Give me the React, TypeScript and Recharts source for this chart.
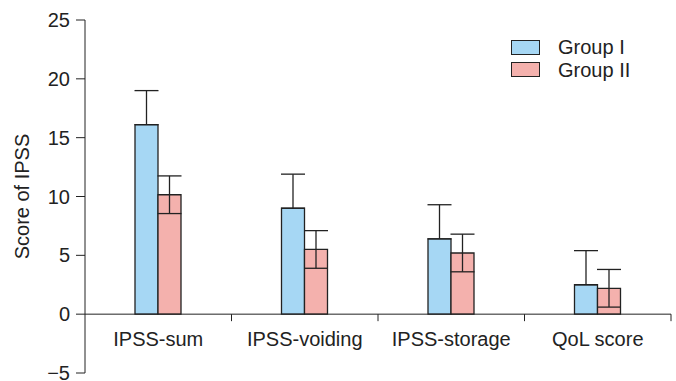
import React from "react";
import {
  BarChart,
  Bar,
  XAxis,
  YAxis,
  ErrorBar,
  ReferenceLine,
} from "recharts";

// values
const categories = ["IPSS-sum", "IPSS-voiding", "IPSS-storage", "QoL score"];
const group1 = [16.1, 9.0, 6.4, 2.5];
const group1Sd = [2.9, 2.9, 2.9, 2.9];
const group2 = [10.15, 5.5, 5.2, 2.2];
const group2Sd = [1.6, 1.6, 1.6, 1.6];
const yTicks = [-5, 0, 5, 10, 15, 20, 25];
const seriesNames = ["Group I", "Group II"];

const data = categories.map((name, i) => ({
  name,
  // Group I only shows the upper whisker
  g1: group1[i],
  g1Err: [0, group1Sd[i]],
  g2: group2[i],
  g2Err: [group2Sd[i], group2Sd[i]],
}));

const INK = "#222";
const BLUE = "#a6d7f4";
const PINK = "#f4b1ad";
const FONT = 20;

// layout of the plot area
const W = 676;
const H = 381;
const PLOT_LEFT = 85;
const PLOT_RIGHT = 671;
const PLOT_TOP = 20;
const PLOT_BOTTOM = 373;
const X_AXIS_H = 8;
const BAND = (PLOT_RIGHT - PLOT_LEFT) / categories.length;
const ZERO_Y = PLOT_BOTTOM - (5 / 30) * (PLOT_BOTTOM - PLOT_TOP);

function CategoryTick(props: any) {
  const { x, payload } = props;
  return (
    <g>
      <text x={x} y={346} textAnchor="middle" fontSize={FONT} fill={INK}>
        {payload.value}
      </text>
      <line
        x1={x + BAND / 2}
        x2={x + BAND / 2}
        y1={ZERO_Y}
        y2={ZERO_Y + 7}
        stroke={INK}
        strokeWidth={1}
      />
    </g>
  );
}

function YLabel(props: any) {
  const vb = props.viewBox || { y: PLOT_TOP, height: PLOT_BOTTOM - PLOT_TOP };
  const cy = vb.y + vb.height / 2;
  const cx = 22;
  return (
    <text
      x={cx}
      y={cy}
      transform={`rotate(-90, ${cx}, ${cy})`}
      textAnchor="middle"
      dominantBaseline="central"
      fontSize={FONT}
      fill={INK}
    >
      Score of IPSS
    </text>
  );
}

function LegendBox() {
  const colors = [BLUE, PINK];
  return (
    <div style={{ position: "absolute", left: 511, top: 36, lineHeight: 1 }}>
      {seriesNames.map((label, i) => (
        <div
          key={label}
          style={{ display: "flex", alignItems: "center", height: 22.5 }}
        >
          <span
            style={{
              width: 27,
              height: 13,
              background: colors[i],
              border: `1px solid ${INK}`,
              marginRight: 18,
            }}
          />
          <span style={{ fontSize: FONT, color: INK }}>{label}</span>
        </div>
      ))}
    </div>
  );
}

export default function App() {
  return (
    <div
      style={{
        position: "absolute",
        left: 0,
        top: 0,
        width: W,
        height: H,
        background: "#fff",
        fontFamily: "'Liberation Sans', Arial, sans-serif",
      }}
    >
      <BarChart
        width={W}
        height={H}
        data={data}
        margin={{
          top: PLOT_TOP,
          right: W - PLOT_RIGHT,
          bottom: H - PLOT_BOTTOM - X_AXIS_H,
          left: 0,
        }}
        barGap={0}
        barSize={23}
      >
        <XAxis
          dataKey="name"
          height={X_AXIS_H}
          axisLine={false}
          tickLine={false}
          tick={(p: any) => <CategoryTick {...p} />}
          interval={0}
        />
        <YAxis
          width={PLOT_LEFT}
          domain={[-5, 25]}
          ticks={yTicks}
          interval={0}
          tick={{ fill: INK, fontSize: FONT }}
          tickFormatter={(v: number) => (v < 0 ? `\u2212${Math.abs(v)}` : `${v}`)}
          tickSize={9}
          tickMargin={6}
          axisLine={{ stroke: INK }}
          tickLine={{ stroke: INK }}
          label={<YLabel />}
        />
        <ReferenceLine y={0} stroke={INK} strokeWidth={1} />
        <Bar
          dataKey="g1"
          name={seriesNames[0]}
          fill={BLUE}
          stroke={INK}
          strokeWidth={1.3}
          isAnimationActive={false}
        >
          <ErrorBar dataKey="g1Err" width={12} stroke={INK} strokeWidth={1.3} direction="y" />
        </Bar>
        <Bar
          dataKey="g2"
          name={seriesNames[1]}
          fill={PINK}
          stroke={INK}
          strokeWidth={1.3}
          isAnimationActive={false}
        >
          <ErrorBar dataKey="g2Err" width={12} stroke={INK} strokeWidth={1.3} direction="y" />
        </Bar>
      </BarChart>
      <LegendBox />
    </div>
  );
}
